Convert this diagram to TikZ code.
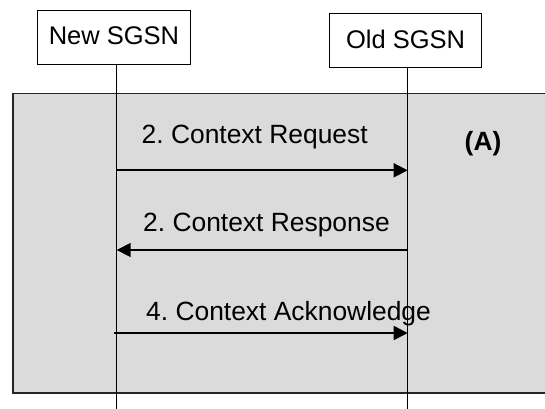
\documentclass[tikz,border=0pt]{standalone}
\usepackage{fontspec}
\setmainfont{Liberation Sans}
\usetikzlibrary{arrows.meta}
\frenchspacing
\begin{document}
\begin{tikzpicture}[x=1pt,y=-1pt,
  entity/.style={draw=black,line width=1pt,fill=white,minimum width=153pt,minimum height=54pt,inner sep=0pt,font=\fontsize{25.5}{30}\selectfont},
  lifeline/.style={draw=black,line width=1.3pt},
  msg/.style={draw=black,line width=1.7pt,-{Triangle[length=14pt,width=14pt]}},
  msgtext/.style={inner sep=0pt,anchor=base west,font=\fontsize{26.4}{30}\selectfont},
  area/.style={draw=black!85,line width=1.2pt,fill=black!14}]
\clip (0,0) rectangle (545,408);
\fill[white] (0,0) rectangle (545,408);
% grey area
\node[area,anchor=north west,minimum width=560pt,minimum height=299.3pt,inner sep=0pt] (A) at (12.3,93) {};
% entities
\node[entity] (new) at (114,37.5) {\raisebox{3pt}{New SGSN}};
\node[entity,minimum width=152pt] (old) at (405.6,40) {\raisebox{2pt}{Old SGSN}};
% lifeline ends
\coordinate (newend) at (116.7,410);
\coordinate (oldend) at (407.7,410);
\draw[lifeline] (new.south -| newend) -- (newend);
\draw[lifeline] (old.south -| oldend) -- (oldend);
% message end points
\coordinate (n1) at (116.7,170.3);
\coordinate (o1) at (407.7,170.3);
\coordinate (n2) at (116.7,250);
\coordinate (o2) at (407.7,250);
\coordinate (n3) at (114,333);
\coordinate (o3) at (407.7,333);
\draw[msg] (n1) -- (o1);
\draw[msg] (o2) -- (n2);
\draw[msg] (n3) -- (o3);
% labels
\node[msgtext] (t1) at (141.5,143.3) {2. Context Request};
\node[msgtext] (t2) at (143,231) {2. Context Response};
\node[msgtext] (t3) at (146,320) {4. Context Acknowledge};
\node[msgtext,font=\fontsize{26.4}{30}\selectfont\bfseries] (lblA) at (464.5,150) {(A)};
\end{tikzpicture}
\end{document}
